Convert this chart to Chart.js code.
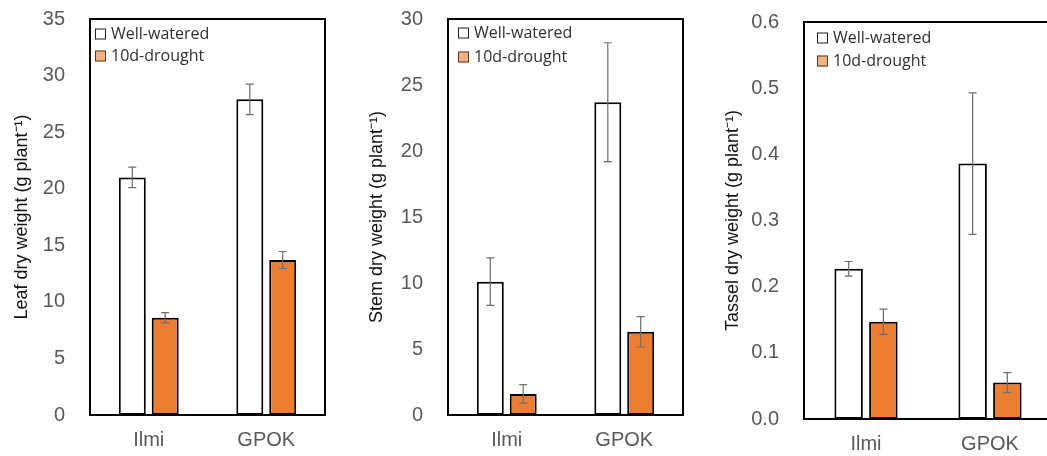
<!DOCTYPE html>
<html>
<head>
<meta charset="utf-8">
<script src="https://cdn.jsdelivr.net/npm/chart.js@4"></script>
<style>
  html, body { margin: 0; padding: 0; background: #fff; overflow: hidden; }
  body { width: 1047px; height: 456px; position: relative; }
  .panel { position: absolute; top: 0; }
</style>
</head>
<body>
<div class="panel" style="left:0px"><canvas id="c-leaf" width="340" height="456"></canvas></div>
<div class="panel" style="left:355px"><canvas id="c-stem" width="340" height="456"></canvas></div>
<div class="panel" style="left:711px"><canvas id="c-tassel" width="360" height="456"></canvas></div>

<script>
/* ---------- data ---------- */
const categories = ['Ilmi', 'GPOK'];
const seriesNames = ['Well-watered', '10d-drought'];

const leafWell       = [21.0, 27.9];
const leafWellErr    = [0.9, 1.35];
const leafDrought    = [8.6, 13.7];
const leafDroughtErr = [0.45, 0.75];

const stemWell       = [10.1, 23.7];
const stemWellErr    = [1.8, 4.5];
const stemDrought    = [1.6, 6.3];
const stemDroughtErr = [0.7, 1.15];

const tasselWell       = [0.227, 0.386];
const tasselWellErr    = [0.011, 0.107];
const tasselDrought    = [0.147, 0.055];
const tasselDroughtErr = [0.019, 0.015];

/* ---------- look ---------- */
const ORANGE = '#ED7D31';
const ORANGE_LIGHT = '#F4B183';
const TICK_GRAY = '#595959';

// error bars drawn from the y scale
const errorBars = {
  id: 'errorBars',
  afterDatasetsDraw(chart) {
    const { ctx, scales: { y } } = chart;
    ctx.save();
    ctx.strokeStyle = '#6e6e6e';
    ctx.lineWidth = 1.2;
    chart.data.datasets.forEach((ds, di) => {
      const meta = chart.getDatasetMeta(di);
      meta.data.forEach((bar, i) => {
        const v = ds.data[i], e = ds.errors[i];
        const yTop = y.getPixelForValue(v + e);
        const yBot = y.getPixelForValue(v - e);
        ctx.beginPath();
        ctx.moveTo(bar.x, yTop); ctx.lineTo(bar.x, yBot);
        ctx.moveTo(bar.x - 4, yTop); ctx.lineTo(bar.x + 4, yTop);
        ctx.moveTo(bar.x - 4, yBot); ctx.lineTo(bar.x + 4, yBot);
        ctx.stroke();
      });
    });
    ctx.restore();
  }
};

// plot frame + legend inside the frame
const frameAndLegend = {
  id: 'frameAndLegend',
  afterDraw(chart, args, opts) {
    const { ctx, chartArea: a } = chart;
    ctx.save();
    ctx.strokeStyle = '#000';
    ctx.lineWidth = 2;
    ctx.strokeRect(a.left, a.top, a.right - a.left, a.bottom - a.top);

    const fills = ['#ffffff', ORANGE_LIGHT];
    const x0 = a.left + opts.dx;
    ctx.font = '16px "Open Sans", sans-serif';
    ctx.textBaseline = 'middle';
    ctx.textAlign = 'left';
    seriesNames.forEach((name, i) => {
      const cy = a.top + opts.rows[i];
      ctx.fillStyle = fills[i];
      ctx.fillRect(x0, cy - 5.5, 11, 11);
      ctx.lineWidth = 1;
      ctx.strokeStyle = i === 0 ? '#222' : '#5a3a20';
      ctx.strokeRect(x0 + 0.5, cy - 5, 10, 10);
      ctx.fillStyle = '#303030';
      ctx.fillText(name, x0 + 16, cy);
    });
    ctx.restore();
  }
};

function makeChart(id, cfg) {
  const ctx = document.getElementById(id).getContext('2d');
  return new Chart(ctx, {
    type: 'bar',
    data: {
      labels: categories,
      datasets: [
        {
          label: seriesNames[0],
          data: cfg.well,
          errors: cfg.wellErr,
          backgroundColor: '#ffffff',
          borderColor: '#000',
          borderWidth: 2,
          borderSkipped: false
        },
        {
          label: seriesNames[1],
          data: cfg.drought,
          errors: cfg.droughtErr,
          backgroundColor: ORANGE,
          borderColor: '#000',
          borderWidth: 2,
          borderSkipped: false
        }
      ]
    },
    options: {
      responsive: false,
      animation: false,
      devicePixelRatio: 1,
      categoryPercentage: 0.56,
      barPercentage: 0.82,
      layout: { padding: { top: cfg.top, right: cfg.right, left: 0, bottom: 0 } },
      scales: {
        x: {
          grid: { display: false, drawTicks: false },
          border: { display: false },
          ticks: { color: TICK_GRAY, font: { family: 'Arial, "Liberation Sans", sans-serif', size: 20 }, padding: 13 },
          afterFit: (s) => { s.height = cfg.xHeight; s.paddingLeft = 0; s.paddingRight = 0; }
        },
        y: {
          min: 0,
          max: cfg.max,
          grid: { display: false, drawTicks: false },
          border: { display: false },
          ticks: {
            stepSize: cfg.step,
            color: TICK_GRAY,
            padding: 25,
            font: { family: 'Arial, "Liberation Sans", sans-serif', size: 20 },
            callback: (v) => cfg.decimals ? Number(v).toFixed(cfg.decimals) : v
          },
          title: {
            display: true,
            text: cfg.title,
            color: '#111',
            font: { family: 'Arial, "Liberation Sans", sans-serif', size: 18 },
            padding: { top: 11, bottom: 0 }
          },
          afterFit: (s) => { s.width = cfg.yWidth; s.paddingTop = 0; s.paddingBottom = 0; }
        }
      },
      plugins: {
        legend: { display: false },
        tooltip: { enabled: false },
        frameAndLegend: { dx: cfg.legendDx, rows: cfg.legendRows }
      }
    },
    plugins: [errorBars, frameAndLegend]
  });
}

makeChart('c-leaf', {
  well: leafWell, wellErr: leafWellErr, drought: leafDrought, droughtErr: leafDroughtErr,
  max: 35, step: 5, decimals: 0,
  title: 'Leaf dry weight (g plant\u207B\u00B9)',
  top: 19, right: 15, xHeight: 41, yWidth: 90,
  legendDx: 5, legendRows: [15, 37]
});

makeChart('c-stem', {
  well: stemWell, wellErr: stemWellErr, drought: stemDrought, droughtErr: stemDroughtErr,
  max: 30, step: 5, decimals: 0,
  title: 'Stem dry weight (g plant\u207B\u00B9)',
  top: 19, right: 12, xHeight: 41, yWidth: 93,
  legendDx: 10, legendRows: [14, 38]
});

makeChart('c-tassel', {
  well: tasselWell, wellErr: tasselWellErr, drought: tasselDrought, droughtErr: tasselDroughtErr,
  max: 0.6, step: 0.1, decimals: 1,
  title: 'Tassel dry weight (g plant\u207B\u00B9)',
  top: 22, right: 19, xHeight: 37, yWidth: 93,
  legendDx: 13, legendRows: [16, 39]
});
</script>
</body>
</html>
